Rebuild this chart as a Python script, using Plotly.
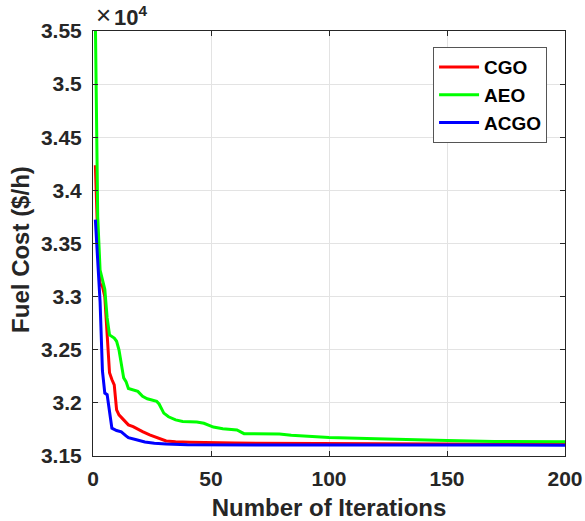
import plotly.graph_objects as go

# Convergence data (iteration, fuel cost $/h)
cgo_iter = [1, 2, 3, 4, 5, 6, 7, 8, 9, 10, 11, 13, 15, 17, 19, 21, 24, 27, 31, 35, 41, 60, 100, 150, 200]
cgo_cost = [34236, 33550, 33120, 33096, 33000, 32600, 32283, 32220, 32170, 31935, 31887, 31840, 31793, 31777, 31750,
            31730, 31699, 31677, 31642, 31635, 31630, 31622, 31615, 31612, 31610]

aeo_iter = [1, 2, 3, 5, 6, 7, 9, 10, 11, 13, 14, 15, 19, 21, 23, 27, 28, 30, 32, 35, 38, 44, 47, 49, 51, 55, 61, 64,
            79, 84, 100, 120, 135, 150, 170, 200]
aeo_cost = [35600, 33750, 33250, 33070, 32800, 32640, 32610, 32580, 32500, 32235, 32200, 32135, 32108, 32061, 32039,
            32014, 31990, 31904, 31869, 31840, 31825, 31820, 31808, 31793, 31772, 31757, 31745, 31710, 31706, 31695,
            31674, 31662, 31652, 31645, 31637, 31633]

acgo_iter = [1, 2, 3, 4, 5, 6, 7, 8, 10, 12, 14, 15, 18, 22, 26, 31, 40, 100, 200]
acgo_cost = [33724, 33300, 32950, 32300, 32092, 32077, 31900, 31762, 31740, 31728, 31690, 31672, 31655, 31632, 31620,
             31612, 31605, 31603, 31602]

y_tickvals = [31500, 32000, 32500, 33000, 33500, 34000, 34500, 35000, 35500]
y_ticktext = ["3.15", "3.2", "3.25", "3.3", "3.35", "3.4", "3.45", "3.5", "3.55"]
x_tickvals = [0, 50, 100, 150, 200]

FONT = "Liberation Sans, Arial, sans-serif"
AXC = "#262626"

fig = go.Figure()
fig.add_trace(go.Scatter(x=cgo_iter, y=cgo_cost, mode="lines", name="<b>CGO</b>",
                         line=dict(color="#ff0000", width=3)))
fig.add_trace(go.Scatter(x=aeo_iter, y=aeo_cost, mode="lines", name="<b>AEO</b>",
                         line=dict(color="#00ff00", width=3)))
fig.add_trace(go.Scatter(x=acgo_iter, y=acgo_cost, mode="lines", name="<b>ACGO</b>",
                         line=dict(color="#0000ff", width=3)))

axis_common = dict(showline=True, linecolor=AXC, linewidth=1, mirror="ticks",
                   ticks="inside", ticklen=5, tickcolor=AXC, showgrid=True,
                   gridcolor="#e3e3e3", gridwidth=1, zeroline=False, automargin=False,
                   tickfont=dict(family=FONT, size=21, color=AXC))

fig.update_xaxes(range=[0, 200], tickvals=x_tickvals,
                 ticktext=[f"<b>{v}</b>" for v in x_tickvals],
                 ticklabelstandoff=4,
                 title=dict(text="<b>Number of Iterations</b>",
                            font=dict(family=FONT, size=24, color=AXC), standoff=10),
                 **axis_common)
fig.update_yaxes(range=[31500, 35500], tickvals=y_tickvals,
                 ticktext=[f"<b>{t}</b>" for t in y_ticktext],
                 ticklabelstandoff=6,
                 **axis_common)

# y-axis title as annotation for precise placement
fig.add_annotation(x=0, y=0.485, xref="paper", yref="paper", xanchor="center", yanchor="middle",
                   xshift=-72, text="<b>Fuel Cost ($/h)</b>", textangle=-90, showarrow=False,
                   font=dict(family=FONT, size=24, color=AXC))

# exponent label
fig.add_annotation(x=0, y=1, xref="paper", yref="paper", xanchor="left", yanchor="bottom",
                   text="×", showarrow=False, xshift=1, yshift=-1,
                   font=dict(family=FONT, size=26, color=AXC))
fig.add_annotation(x=0, y=1, xref="paper", yref="paper", xanchor="left", yanchor="bottom",
                   text="<b>10<sup>4</sup></b>", showarrow=False, xshift=19, yshift=-1,
                   font=dict(family=FONT, size=22, color=AXC))

fig.update_layout(
    width=585, height=521,
    margin=dict(l=93, r=20, t=31, b=65),
    plot_bgcolor="white", paper_bgcolor="white",
    showlegend=True,
    legend=dict(x=0.962, y=0.962, xanchor="right", yanchor="top",
                bgcolor="white", bordercolor="#555555", borderwidth=1,
                font=dict(family=FONT, size=19, color="black"),
                tracegroupgap=0, itemwidth=40),
)

fig.write_html("out.html")
